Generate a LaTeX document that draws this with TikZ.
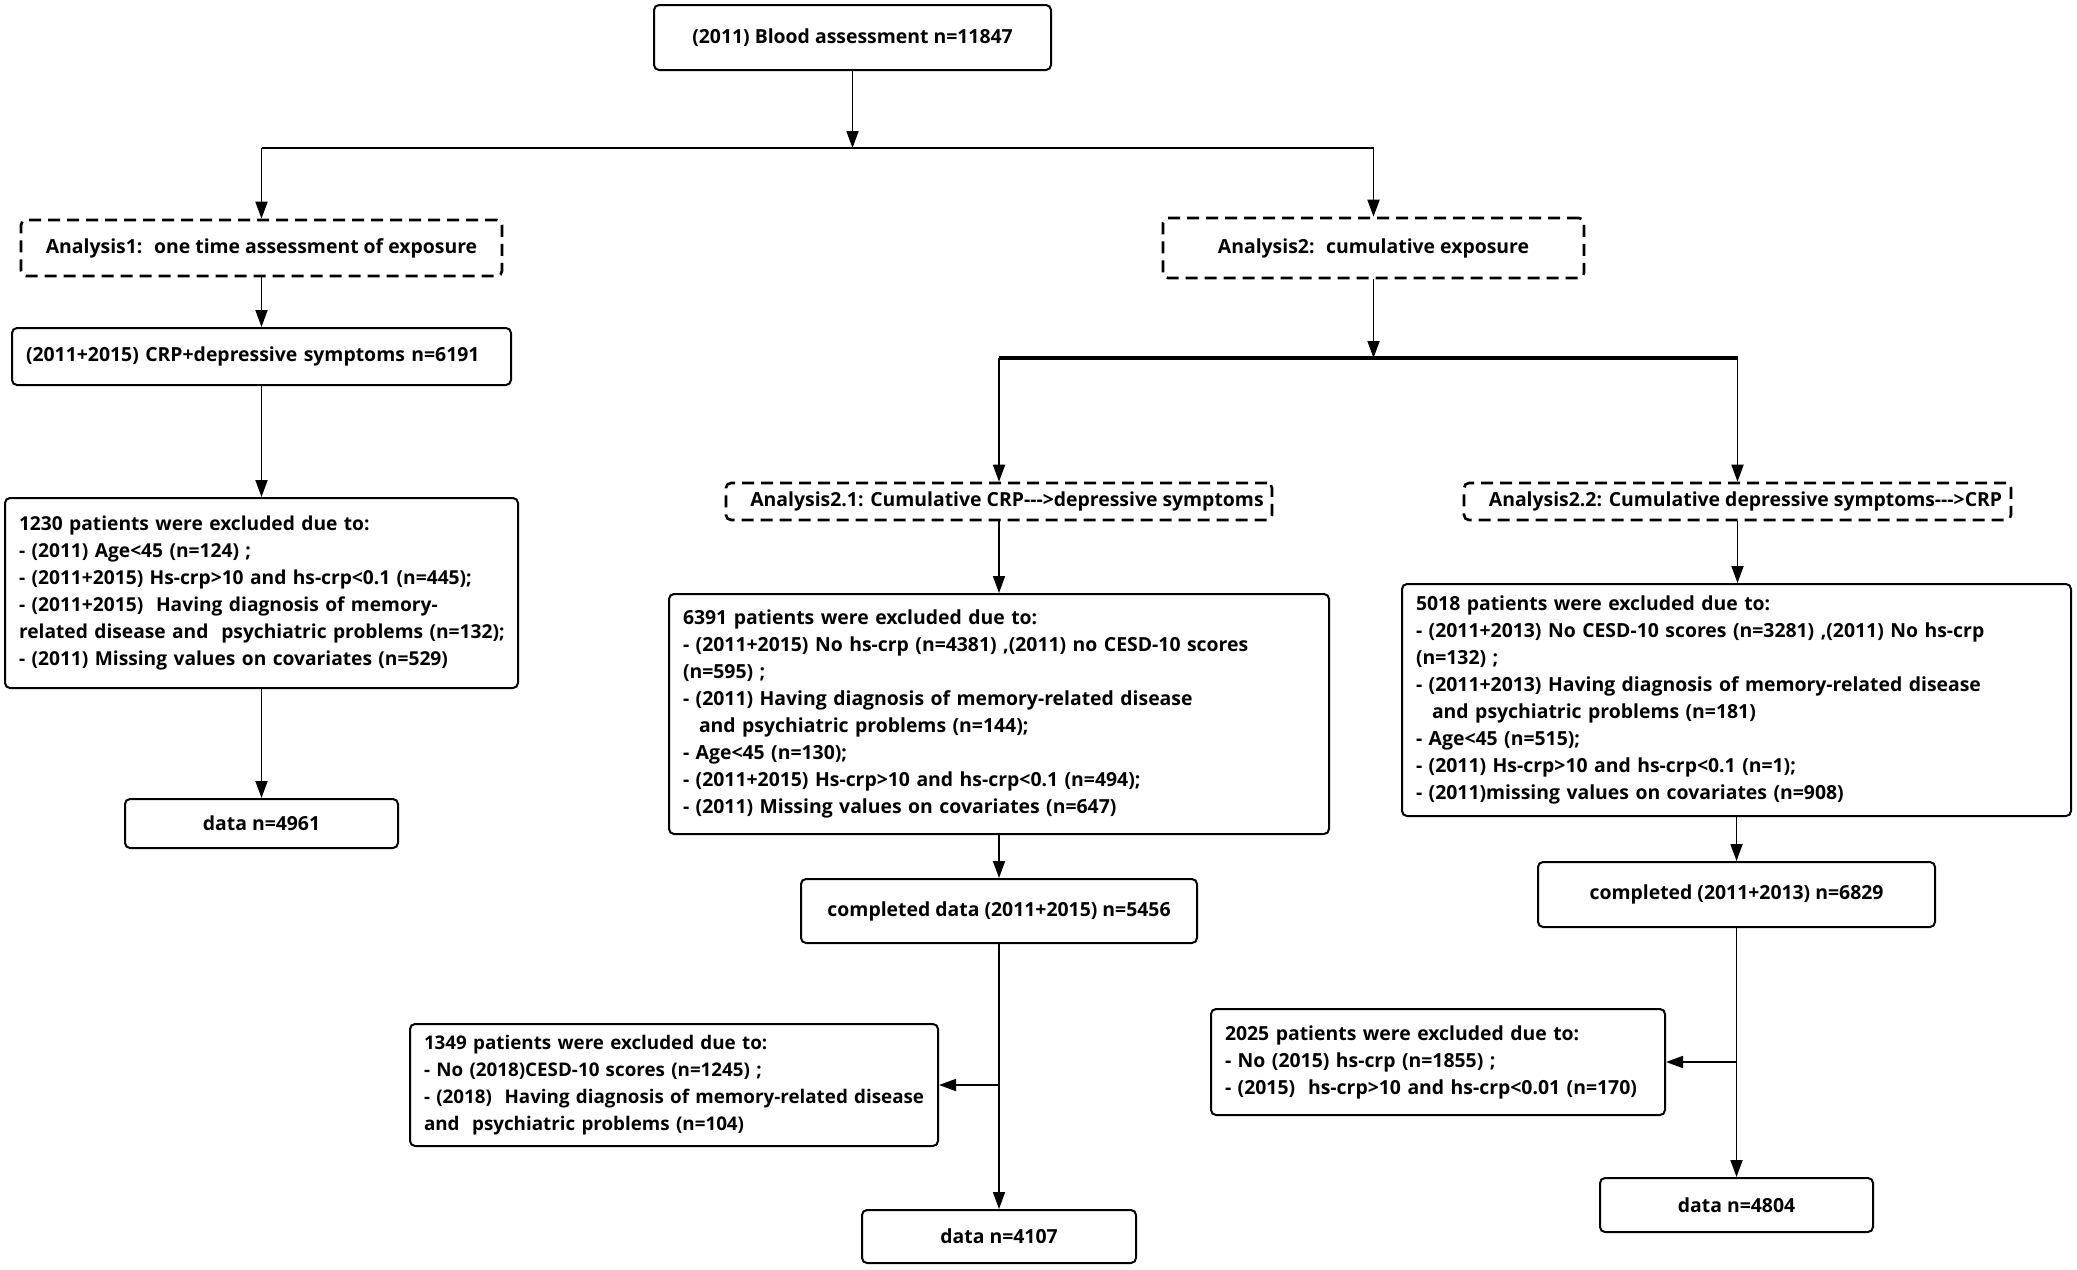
\documentclass[tikz,border=0pt]{standalone}
\usepackage{fontspec}
\setmainfont{Open Sans}
\usetikzlibrary{arrows.meta}
\begin{document}
\begin{tikzpicture}[x=0.5pt,y=-0.5pt,
  box/.style={draw, line width=1pt, rounded corners=2.5pt, inner sep=0pt, fill=white,
    font=\fontsize{9.7}{13.5}\selectfont\bfseries},
  cbox/.style n args={2}{box, minimum width=#1, minimum height=#2, align=center},
  lbox/.style n args={3}{box, minimum width=#1, minimum height=#2, text width=#3, align=left},
  dbox/.style n args={2}{box, line width=1.3pt, dash pattern=on 6pt off 3.5pt, minimum width=#1, minimum height=#2, align=center},
  conn/.style={line width=0.9pt, -{Triangle[length=8.5pt,width=6pt]}},
  ln/.style={line width=0.9pt},
  thickln/.style={line width=1.6pt}]
\useasboundingbox (0,0) rectangle (2077,1269);
\fill[white] (0,0) rectangle (2077,1269);

% left branch
\node[cbox={198.5pt}{32.5pt}] (top) at (852.5,37.5) {(2011) Blood assessment n=11847};
\node[dbox={240.5pt}{28pt}] (a1) at (261.5,248) {Analysis1:\hspace{0.6em}one time assessment of exposure};
\node[dbox={210.5pt}{30pt}] (a2) at (1373.5,248) {Analysis2:\hspace{0.6em}cumulative exposure};
\node[lbox={249.5pt}{28.5pt}{235.5pt}] (crp) at (261.5,356.5) {\mbox{(2011+2015) CRP+depressive symptoms n=6191}};
\node[lbox={256.5pt}{95pt}{242.5pt}, font=\fontsize{9.6}{13.5}\selectfont\bfseries] (ex1) at (261.5,593) {\mbox{1230 patients were excluded due to:}\\
\mbox{- (2011) Age<45 (n=124) ;}\\
\mbox{- (2011+2015) Hs-crp>10 and hs-crp<0.1 (n=445);}\\
\mbox{- (2011+2015)~ Having diagnosis of memory-}\\
\mbox{related disease and~ psychiatric problems (n=132);}\\
\mbox{- (2011) Missing values on covariates (n=529)}};
\node[cbox={136.5pt}{24.5pt}] (d1) at (261.5,823.5) {data n=4961};

% middle branch
\node[dbox={273pt}{18.5pt}] (a21) at (999,501.5) {\hspace*{8pt}Analysis2.1: Cumulative CRP-{}-{}->depressive symptoms};
\node[lbox={330pt}{120pt}{316pt}] (ex21) at (999,714) {\mbox{6391 patients were excluded due to:}\\
\mbox{- (2011+2015) No hs-crp (n=4381) ,(2011) no CESD-10 scores}\\
\mbox{(n=595) ;}\\
\mbox{- (2011) Having diagnosis of memory-related disease}\\
\mbox{\hspace*{8pt}and psychiatric problems (n=144);}\\
\mbox{- Age<45 (n=130);}\\
\mbox{- (2011+2015) Hs-crp>10 and hs-crp<0.1 (n=494);}\\
\mbox{- (2011) Missing values on covariates (n=647)}};
\node[cbox={198pt}{32pt}] (comp21) at (999,911) {completed data (2011+2015) n=5456};
\node[lbox={264pt}{61pt}{250pt}, font=\fontsize{9.4}{13.5}\selectfont\bfseries] (ex3) at (674,1085) {\mbox{1349 patients were excluded due to:}\\
\mbox{- No (2018)CESD-10 scores (n=1245) ;}\\
\mbox{- (2018)~ Having diagnosis of memory-related disease}\\
\mbox{and~ psychiatric problems (n=104)}};
\node[cbox={137pt}{26.5pt}] (d2) at (999,1236.5) {data n=4107};

% right branch
\node[dbox={273.5pt}{18.5pt}] (a22) at (1737.5,501.5) {\hspace*{8pt}Analysis2.2: Cumulative depressive symptoms-{}-{}->CRP};
\node[lbox={334.5pt}{116pt}{320.5pt}] (ex22) at (1736.5,700) {\mbox{5018 patients were excluded due to:}\\
\mbox{- (2011+2013) No CESD-10 scores (n=3281) ,(2011) No hs-crp}\\
\mbox{(n=132) ;}\\
\mbox{- (2011+2013) Having diagnosis of memory-related disease}\\
\mbox{\hspace*{8pt}and psychiatric problems (n=181)}\\
\mbox{- Age<45 (n=515);}\\
\mbox{- (2011) Hs-crp>10 and hs-crp<0.1 (n=1);}\\
\mbox{- (2011)missing values on covariates (n=908)}};
\node[cbox={198.5pt}{32.5pt}] (comp22) at (1736.5,894.5) {completed (2011+2013) n=6829};
\node[lbox={227pt}{53pt}{213pt}] (ex4) at (1438,1062) {\mbox{2025 patients were excluded due to:}\\
\mbox{- No (2015) hs-crp (n=1855) ;}\\
\mbox{- (2015)~ hs-crp>10 and hs-crp<0.01 (n=170)}};
\node[cbox={136.5pt}{27pt}] (d3) at (1736.5,1205) {data n=4804};

\coordinate (j1) at (852.5,148);
\coordinate (j2) at (1373.5,358);

% connectors
\draw[conn] (top.south) -- (j1);
\draw[ln] (a1.north |- j1) -- (a2.north |- j1);
\draw[conn] (a1.north |- j1) -- (a1.north);
\draw[conn] (a2.north |- j1) -- (a2.north);
\draw[conn] (a1.south) -- (a1.south |- crp.north);
\draw[conn] (crp.south) -- (crp.south |- ex1.north);
\draw[conn] (ex1.south) -- (ex1.south |- d1.north);

\draw[conn] (a2.south) -- (j2);
\draw[thickln] (a21.north |- j2) -- (a22.north |- j2);
\draw[conn] (a21.north |- j2) -- (a21.north);
\draw[conn] (a22.north |- j2) -- (a22.north);
\draw[conn] (a21.south) -- (a21.south |- ex21.north);
\draw[conn] (ex21.south) -- (ex21.south |- comp21.north);
\draw[conn] (comp21.south) -- (comp21.south |- d2.north);
\draw[conn] (comp21.south |- ex3.east) -- (ex3.east);

\draw[conn] (a22.south) -- (a22.south |- ex22.north);
\draw[conn] (ex22.south) -- (ex22.south |- comp22.north);
\draw[conn] (comp22.south) -- (comp22.south |- d3.north);
\draw[conn] (comp22.south |- ex4.east) -- (ex4.east);
\end{tikzpicture}
\end{document}
